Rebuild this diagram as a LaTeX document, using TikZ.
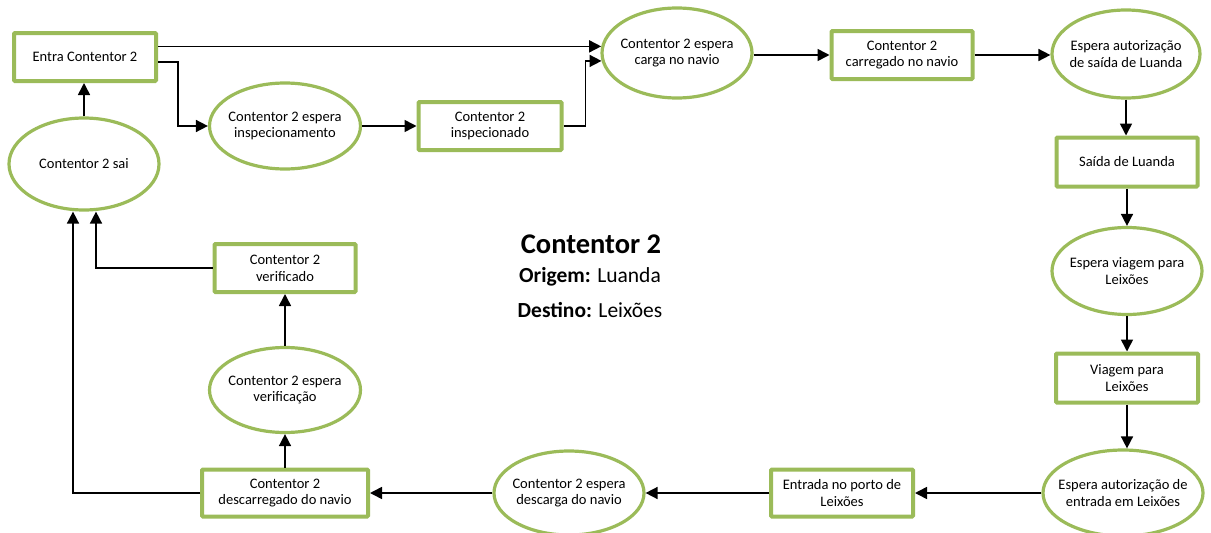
\documentclass[tikz,border=0pt]{standalone}
\usepackage{fontspec}
\setmainfont{Carlito}
\usetikzlibrary{shapes.geometric,arrows.meta,calc}
\definecolor{boxgreen}{HTML}{9BBB59}
\begin{document}
\begin{tikzpicture}[x=1pt,y=-1pt,
  state/.style={ellipse, draw=boxgreen, line width=3.2pt, fill=white,
    inner sep=-14pt, align=center, font=\fontsize{14.5}{16.8}\selectfont},
  activity/.style={rectangle, draw=boxgreen, line width=4pt, fill=white,
    rounded corners=1pt, inner sep=0pt, align=center,
    font=\fontsize{14.5}{16.8}\selectfont},
  arr/.style={line width=1.6pt, -{Triangle[length=12pt,width=12pt]}}]
\useasboundingbox (0,0) rectangle (1211,533);

% upper row
\node[activity, minimum width=142pt, minimum height=48pt] (entra) at (85,57) {Entra Contentor 2};
\node[state, minimum width=150pt, minimum height=92pt] (sai) at (84,164) {Contentor 2 sai};
\node[state, minimum width=151pt, minimum height=86pt] (espinsp) at (285,126) {Contentor 2 espera\\inspecionamento};
\node[activity, minimum width=143pt, minimum height=48pt] (inspd) at (490,126) {Contentor 2\\inspecionado};
\node[state, minimum width=150pt, minimum height=90pt] (espcarga) at (677,53) {Contentor 2 espera\\carga no navio};
\node[activity, minimum width=141pt, minimum height=48pt] (carreg) at (902,55) {Contentor 2\\carregado no navio};
\node[state, minimum width=148pt, minimum height=88pt] (espsaida) at (1126,54) {Espera autorização\\de saída de Luanda};

% right column
\node[activity, minimum width=141pt, minimum height=49pt] (saida) at (1127,162) {Saída de Luanda};
\node[state, minimum width=150pt, minimum height=87pt] (espviagem) at (1127,271) {Espera viagem para\\Leixões};
\node[activity, minimum width=142pt, minimum height=49pt] (viagem) at (1127,378) {Viagem para\\Leixões};
\node[state, minimum width=160pt, minimum height=86pt] (espentrada) at (1123,493) {Espera autorização de\\entrada em Leixões};

% lower row and left column
\node[activity, minimum width=142pt, minimum height=47pt] (porto) at (842,493) {Entrada no porto de\\Leixões};
\node[state, minimum width=150pt, minimum height=84pt] (espdesc) at (569,493) {Contentor 2 espera\\descarga do navio};
\node[activity, minimum width=166pt, minimum height=47pt] (descd) at (285,493) {Contentor 2\\descarregado do navio};
\node[state, minimum width=151pt, minimum height=85pt] (espverif) at (285,390) {Contentor 2 espera\\verificação};
\node[activity, minimum width=141pt, minimum height=48pt] (verif) at (285,268) {Contentor 2\\verificado};

% legend in the middle
\node[font=\fontsize{28.5}{32}\selectfont\bfseries] (title) at (591,244) {Contentor 2};
\node[font=\fontsize{21.5}{24}\selectfont] (origem) at (590,277) {\textbf{Origem:} Luanda};
\node[font=\fontsize{21.5}{24}\selectfont] (destino) at (590,310) {\textbf{Destino:} Leixões};

% connectors
\draw[arr] (sai.north) -- (sai.north |- entra.south);
\draw[arr] (entra.east |- espcarga.175.5) -- (espcarga.175.5);
\draw[arr] (entra.east |- 0,62) -| ($(espinsp.west)+(-30,0)$) -- (espinsp.west);
\draw[arr] (espinsp.east) -- (inspd.west);
\draw[arr] (inspd.east) -- ++(22,0) |- (espcarga.186);
\draw[arr] (carreg.west -| espcarga.east) -- (carreg.west);
\draw[arr] (carreg.east) -- (espsaida.west |- carreg.east);
\draw[arr] (espsaida.south) -- (espsaida.south |- saida.north);
\draw[arr] (saida.south) -- (saida.south |- espviagem.north);
\draw[arr] (espviagem.south) -- (espviagem.south |- viagem.north);
\draw[arr] (viagem.south) -- (viagem.south |- espentrada.north);
\draw[arr] (espentrada.west) -- (porto.east);
\draw[arr] (porto.west) -- (espdesc.east);
\draw[arr] (espdesc.west) -- (descd.east);
\draw[arr] (descd.north) -- (espverif.south);
\draw[arr] (espverif.north) -- (verif.south);
\draw[arr] (verif.west) -| (sai.south -| 96,0);
\draw[arr] (descd.west) -| (sai.south -| 73,0);
\end{tikzpicture}
\end{document}
